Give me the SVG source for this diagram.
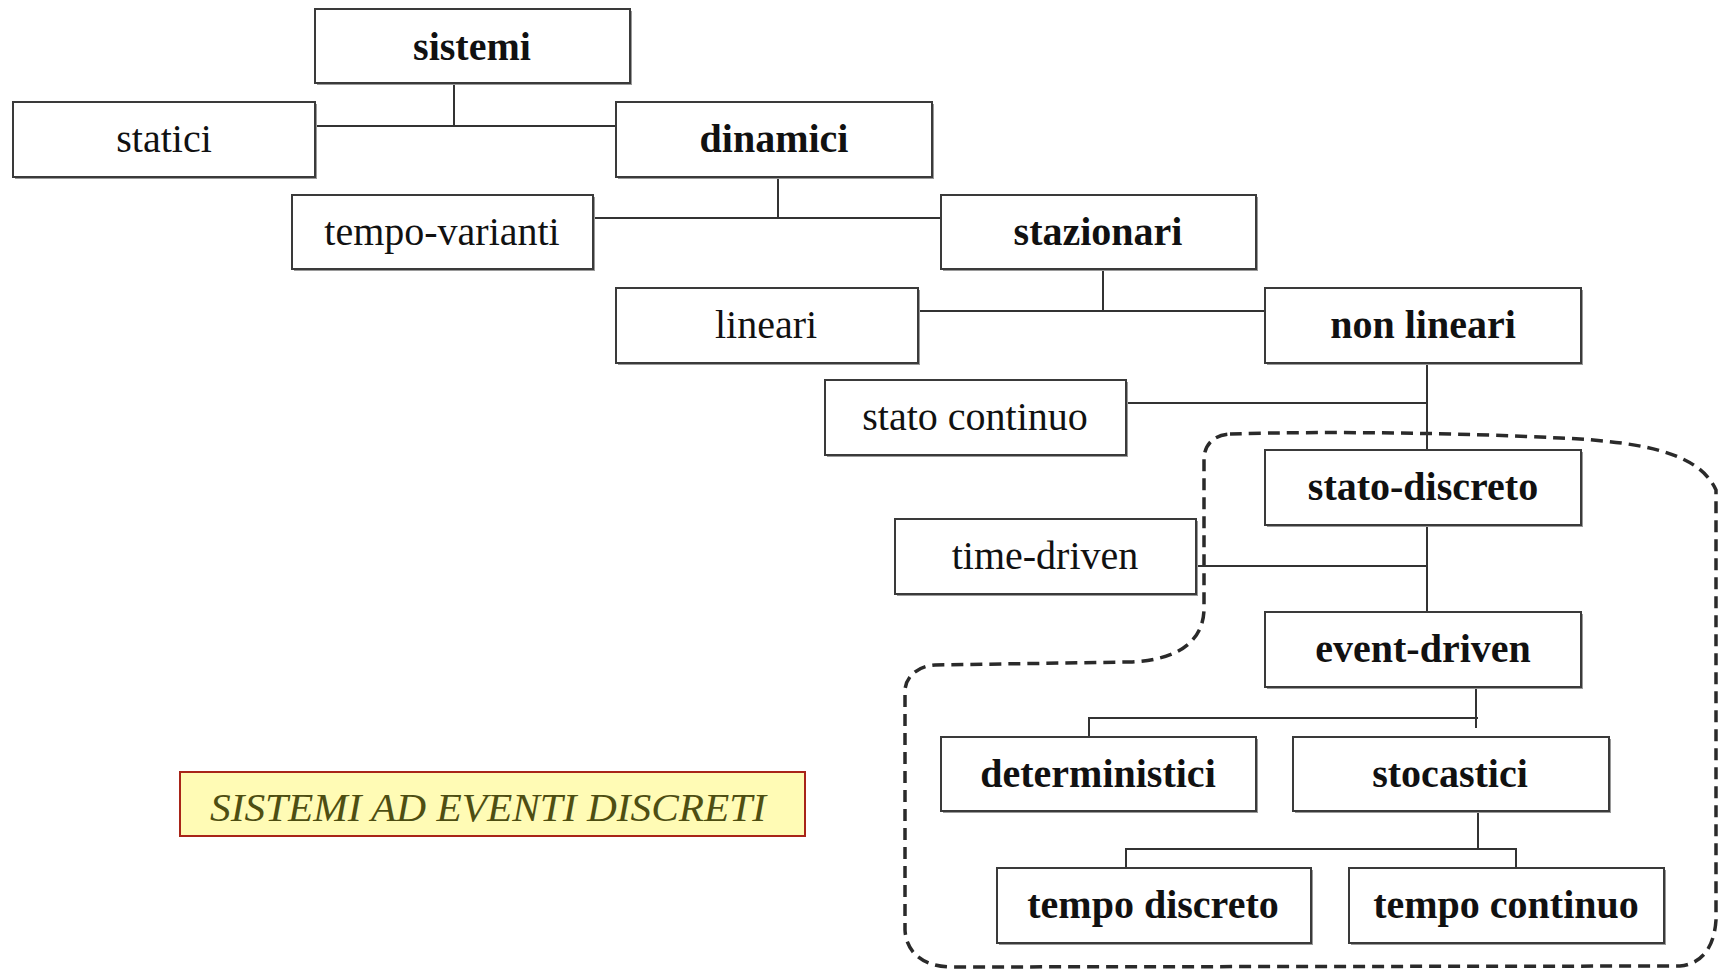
<svg xmlns="http://www.w3.org/2000/svg" width="1719" height="970" viewBox="0 0 1719 970">
<style>
.box rect.s{fill:#9a9a9a;}
.box rect.b{fill:#fff;stroke:#3a3a3a;stroke-width:2;}
.box text{font-family:"Liberation Serif","Times New Roman",serif;font-size:40px;fill:#111;text-anchor:middle;}
.box text.bold{font-weight:bold;}
#connectors line, #connectors path{stroke:#333;stroke-width:2;fill:none;}
#region{fill:none;stroke:#2a2a2a;stroke-width:3.5;stroke-dasharray:12 7;}
</style>
<rect width="1719" height="970" fill="#fff"/>
<path id="region" d="M 1230 434 C 1330 431 1460 433 1560 438 C 1650 442 1700 455 1716 490 L 1716 920 C 1714 950 1700 964 1680 966 L 950 967 C 920 966 906 950 905 930 L 905 690 C 906 676 918 666 935 665 L 1130 662 C 1180 660 1203 640 1204 610 L 1204 460 C 1204 444 1214 435 1230 434 Z"/>
<g id="connectors">
<line x1="454" y1="83" x2="454" y2="126"/>
<line x1="315" y1="126" x2="616" y2="126"/>
<line x1="778" y1="177" x2="778" y2="218"/>
<line x1="593" y1="218" x2="941" y2="218"/>
<line x1="1103" y1="269" x2="1103" y2="311"/>
<line x1="918" y1="311" x2="1265" y2="311"/>
<line x1="1427" y1="363" x2="1427" y2="451"/>
<line x1="1126" y1="403" x2="1427" y2="403"/>
<line x1="1427" y1="525" x2="1427" y2="613"/>
<line x1="1196" y1="566" x2="1427" y2="566"/>
<line x1="1476" y1="687" x2="1476" y2="728"/>
<path d="M 1478 718 L 1089 718 L 1089 737"/>
<line x1="1478" y1="811" x2="1478" y2="849"/>
<path d="M 1126 868 L 1126 849 L 1516 849 L 1516 868"/>
</g>
<g id="sistemi" class="box"><rect class="s" x="317" y="11" width="315" height="74"/><rect class="b" x="315" y="9" width="315" height="74"/><text class="bold" x="472" y="60">sistemi</text></g>
<g id="statici" class="box"><rect class="s" x="15" y="104" width="302" height="75"/><rect class="b" x="13" y="102" width="302" height="75"/><text x="164" y="152">statici</text></g>
<g id="dinamici" class="box"><rect class="s" x="618" y="104" width="316" height="75"/><rect class="b" x="616" y="102" width="316" height="75"/><text class="bold" x="774" y="152">dinamici</text></g>
<g id="tempo-varianti" class="box"><rect class="s" x="294" y="197" width="301" height="74"/><rect class="b" x="292" y="195" width="301" height="74"/><text x="442" y="245">tempo-varianti</text></g>
<g id="stazionari" class="box"><rect class="s" x="943" y="197" width="315" height="74"/><rect class="b" x="941" y="195" width="315" height="74"/><text class="bold" x="1098" y="245">stazionari</text></g>
<g id="lineari" class="box"><rect class="s" x="618" y="290" width="302" height="75"/><rect class="b" x="616" y="288" width="302" height="75"/><text x="766" y="338">lineari</text></g>
<g id="non-lineari" class="box"><rect class="s" x="1267" y="290" width="316" height="75"/><rect class="b" x="1265" y="288" width="316" height="75"/><text class="bold" x="1423" y="338">non lineari</text></g>
<g id="stato-continuo" class="box"><rect class="s" x="827" y="382" width="301" height="75"/><rect class="b" x="825" y="380" width="301" height="75"/><text x="975" y="430">stato continuo</text></g>
<g id="stato-discreto" class="box"><rect class="s" x="1267" y="452" width="316" height="75"/><rect class="b" x="1265" y="450" width="316" height="75"/><text class="bold" x="1423" y="500">stato-discreto</text></g>
<g id="time-driven" class="box"><rect class="s" x="897" y="521" width="301" height="75"/><rect class="b" x="895" y="519" width="301" height="75"/><text x="1045" y="569">time-driven</text></g>
<g id="event-driven" class="box"><rect class="s" x="1267" y="614" width="316" height="75"/><rect class="b" x="1265" y="612" width="316" height="75"/><text class="bold" x="1423" y="662">event-driven</text></g>
<g id="deterministici" class="box"><rect class="s" x="943" y="739" width="315" height="74"/><rect class="b" x="941" y="737" width="315" height="74"/><text class="bold" x="1098" y="787">deterministici</text></g>
<g id="stocastici" class="box"><rect class="s" x="1295" y="739" width="316" height="74"/><rect class="b" x="1293" y="737" width="316" height="74"/><text class="bold" x="1450" y="787">stocastici</text></g>
<g id="tempo-discreto" class="box"><rect class="s" x="999" y="870" width="314" height="75"/><rect class="b" x="997" y="868" width="314" height="75"/><text class="bold" x="1153" y="918">tempo discreto</text></g>
<g id="tempo-continuo" class="box"><rect class="s" x="1351" y="870" width="315" height="75"/><rect class="b" x="1349" y="868" width="315" height="75"/><text class="bold" x="1506" y="918">tempo continuo</text></g>
<g id="label">
<rect x="180" y="772" width="625" height="64" fill="#fffbb5" stroke="#a82418" stroke-width="2"/>
<text x="488" y="821" font-family="'Liberation Serif','Times New Roman',serif" font-style="italic" font-size="40" fill="#4e4e12" text-anchor="middle" textLength="556" lengthAdjust="spacingAndGlyphs">SISTEMI AD EVENTI DISCRETI</text>
</g>
</svg>
